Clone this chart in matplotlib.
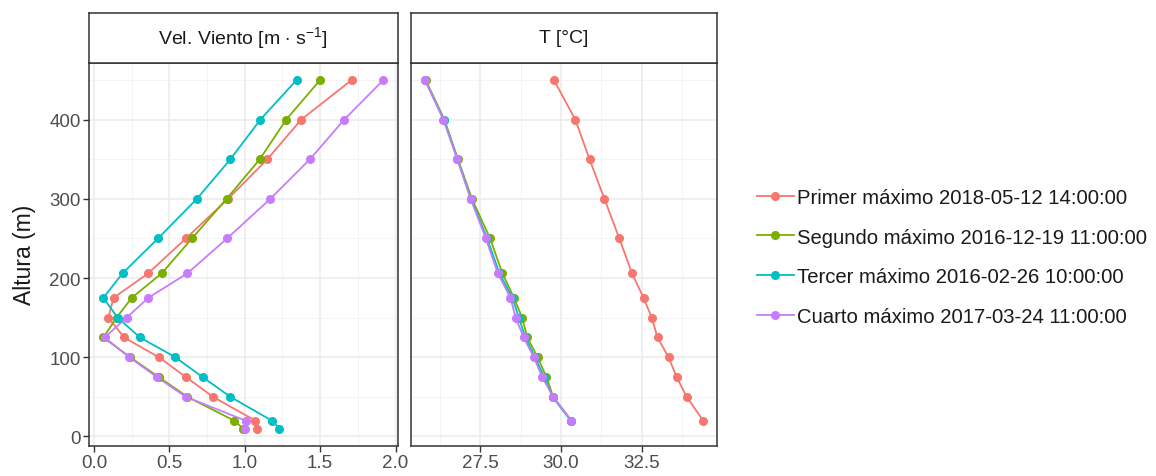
import numpy as np
import matplotlib.pyplot as plt
from matplotlib.ticker import MultipleLocator, FormatStrFormatter
from matplotlib.lines import Line2D

plt.rcParams['font.family'] = ['Liberation Sans', 'DejaVu Sans']
plt.rcParams['mathtext.fontset'] = 'custom'
plt.rcParams['mathtext.rm'] = 'Liberation Sans'
plt.rcParams['mathtext.it'] = 'Liberation Sans'

# alturas (m)
alt_v = [10, 20, 50, 75, 100, 125, 150, 175, 206, 250, 300, 350, 400, 450]
alt_t = [20, 50, 75, 100, 125, 150, 175, 206, 250, 300, 350, 400, 450]

etiquetas = ['Primer máximo 2018-05-12 14:00:00',
             'Segundo máximo 2016-12-19 11:00:00',
             'Tercer máximo 2016-02-26 10:00:00',
             'Cuarto máximo 2017-03-24 11:00:00']
colores = ['#F8766D', '#7CAE00', '#00BFC4', '#C77CFF']

# velocidad del viento [m/s]
v_primer = [1.08, 1.07, 0.79, 0.61, 0.43, 0.20, 0.095, 0.13, 0.36, 0.61, 0.89, 1.15, 1.375, 1.71]
v_segundo = [0.99, 0.93, 0.62, 0.43, 0.24, 0.062, 0.15, 0.25, 0.45, 0.65, 0.88, 1.10, 1.275, 1.50]
v_tercer = [1.23, 1.18, 0.905, 0.72, 0.54, 0.305, 0.157, 0.062, 0.19, 0.425, 0.683, 0.905, 1.104, 1.344]
v_cuarto = [1.0, 1.005, 0.61, 0.417, 0.235, 0.07, 0.217, 0.36, 0.62, 0.883, 1.17, 1.433, 1.66, 1.92]

# temperatura [°C]
t_primer = [34.39, 33.88, 33.57, 33.32, 32.98, 32.80, 32.55, 32.19, 31.80, 31.34, 30.88, 30.44, 29.78]
t_segundo = [30.32, 29.76, 29.55, 29.28, 28.96, 28.80, 28.55, 28.19, 27.81, 27.25, 26.82, 26.40, 25.82]
t_tercer = [30.30, 29.74, 29.48, 29.20, 28.90, 28.70, 28.50, 28.10, 27.72, 27.22, 26.80, 26.38, 25.80]
t_cuarto = [30.32, 29.76, 29.42, 29.16, 28.85, 28.60, 28.44, 28.05, 27.68, 27.21, 26.80, 26.37, 25.80]

viento = [v_primer, v_segundo, v_tercer, v_cuarto]
temp = [t_primer, t_segundo, t_tercer, t_cuarto]

W, H = 1156, 477
fig = plt.figure(figsize=(W / 100, H / 100), dpi=100)

bot = (H - 447) / H
hgt = (447 - 63.5) / H
ax1 = fig.add_axes([89 / W, bot, (397.5 - 89) / W, hgt])
ax2 = fig.add_axes([411 / W, bot, (716.5 - 411) / W, hgt], sharey=ax1)


def estilo(ax, titulo, left):
    ax.set_axisbelow(True)
    ax.grid(which='major', color='#EBEBEB', lw=1.1)
    ax.grid(which='minor', color='#F2F2F2', lw=0.6)
    for s in ax.spines.values():
        s.set_color('#333333')
        s.set_linewidth(1.1)
    ax.tick_params(which='major', length=4, color='#333333', labelsize=13.5,
                   labelcolor='#4D4D4D', width=1, pad=2)
    ax.tick_params(which='minor', length=0)
    if not left:
        ax.tick_params(axis='y', labelleft=False, length=0)
    pos = ax.get_position()
    sax = fig.add_axes([pos.x0, (H - 63.5) / H, pos.width, 50 / H])
    sax.set_xticks([])
    sax.set_yticks([])
    for s in sax.spines.values():
        s.set_color('#333333')
        s.set_linewidth(1.1)
    sax.text(0.5, 0.5, titulo, ha='center', va='center', fontsize=14, color='#1A1A1A',
             transform=sax.transAxes)


for vals, c in zip(viento, colores):
    ax1.plot(vals, alt_v, color=c, lw=1.3, zorder=2)
for vals, c in zip(viento, colores):
    ax1.plot(vals, alt_v, 'o', color=c, ms=5.5, zorder=3)

for vals, c in zip(temp, colores):
    ax2.plot(vals, alt_t, color=c, lw=1.3, zorder=2)
for vals, c in zip(temp, colores):
    ax2.plot(vals, alt_t, 'o', color=c, ms=5.5, zorder=3)

ax1.set_ylim(-12, 472)
ax1.yaxis.set_major_locator(MultipleLocator(100))
ax1.yaxis.set_minor_locator(MultipleLocator(50))
ax1.set_xlim(-0.033, 2.013)
ax1.xaxis.set_major_locator(MultipleLocator(0.5))
ax1.xaxis.set_minor_locator(MultipleLocator(0.25))
ax1.xaxis.set_major_formatter(FormatStrFormatter('%.1f'))
ax2.set_xlim(25.37, 34.8)
ax2.xaxis.set_major_locator(MultipleLocator(2.5))
ax2.xaxis.set_minor_locator(MultipleLocator(1.25))
ax2.xaxis.set_major_formatter(FormatStrFormatter('%.1f'))

estilo(ax1, r'Vel. Viento [m $\cdot$ s$^{-1}$]', True)
estilo(ax2, 'T [°C]', False)

fig.text(24 / W, (bot + hgt / 2), 'Altura (m)', rotation=90, ha='center', va='center',
         fontsize=16.5, color='#1A1A1A')

handles = [Line2D([], [], color=c, lw=1.3, marker='o', ms=5.5) for c in colores]
fig.legend(handles, etiquetas, loc='center left', bbox_to_anchor=(757 / W, (H - 258) / H),
           frameon=False, fontsize=14.6, handlelength=1.8, handletextpad=0.15,
           labelspacing=1.03, borderpad=0, borderaxespad=0, labelcolor='#1A1A1A')

fig.savefig('out.png', dpi=100)
